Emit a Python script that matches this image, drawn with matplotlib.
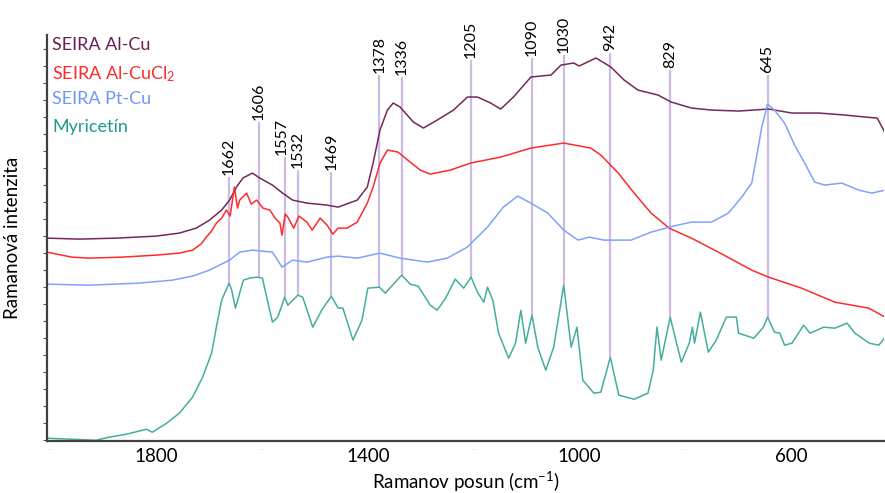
import matplotlib
matplotlib.use("Agg")
from matplotlib import pyplot as plt
import numpy as np

plt.rcParams['font.family'] = ['Lato', 'DejaVu Sans']
plt.rcParams['mathtext.fontset'] = 'custom'
plt.rcParams['mathtext.rm'] = 'Lato'
plt.rcParams['mathtext.it'] = 'Lato'

# SEIRA Al-Cu
alcu_x = [2006, 1945, 1875, 1800, 1756, 1724, 1699, 1676, 1661, 1648, 1636, 1618, 1604,
          1580, 1561, 1542, 1515, 1477, 1456, 1420, 1401, 1390, 1377, 1363, 1352, 1339,
          1314, 1295, 1269, 1238, 1212, 1193, 1168, 1149, 1125, 1092, 1054, 1035, 1011,
          1001, 969, 941, 916, 890, 852, 827, 789, 751, 700, 643, 599, 548, 499, 461, 438, 423]
alcu_y = [202, 201, 202, 204, 207, 212, 220, 230, 240, 253, 262, 267, 262,
          255, 247, 240, 237, 235, 233, 240, 253, 277, 310, 330, 337, 333,
          318, 312, 320, 330, 343, 343, 337, 331, 343, 363, 365, 375, 377,
          374, 382, 373, 360, 350, 345, 338, 332, 330, 329, 331, 327, 327, 325, 323, 322, 307]

# SEIRA Al-CuCl2
alcucl_x = [2006, 1959, 1926, 1864, 1800, 1756, 1731, 1715, 1705, 1695, 1686, 1676, 1667,
            1660, 1652, 1646, 1642, 1629, 1620, 1610, 1598, 1585, 1575, 1566, 1562, 1556,
            1551, 1540, 1530, 1515, 1505, 1490, 1477, 1466, 1456, 1439, 1420, 1401, 1390,
            1377, 1363, 1343, 1320, 1301, 1282, 1244, 1206, 1149, 1092, 1030, 979, 960,
            927, 897, 865, 831, 789, 738, 675, 643, 581, 518, 454, 423]
alcucl_y = [188, 183, 182, 183, 185, 187, 190, 196, 203, 209, 217, 222, 230,
            224, 253, 232, 240, 247, 236, 240, 232, 230, 222, 217, 205, 226,
            223, 212, 224, 218, 210, 222, 215, 206, 212, 212, 218, 237, 253,
            277, 290, 288, 278, 270, 266, 270, 277, 283, 292, 297, 292, 285,
            267, 247, 227, 212, 202, 188, 170, 163, 152, 138, 132, 123]

# SEIRA Pt-Cu
ptcu_x = [2006, 1926, 1832, 1769, 1731, 1699, 1680, 1661, 1642, 1618, 1580, 1562, 1542,
          1515, 1477, 1456, 1420, 1377, 1339, 1288, 1250, 1212, 1174, 1144, 1117, 1092,
          1060, 1030, 1003, 982, 954, 903, 865, 831, 789, 751, 719, 694, 675, 666, 656,
          645, 632, 613, 594, 575, 556, 537, 505, 473, 448, 423]
ptcu_y = [156, 155, 157, 160, 164, 170, 175, 180, 188, 190, 188, 173, 180,
          178, 183, 184, 182, 187, 182, 178, 182, 193, 213, 233, 244, 237,
          227, 210, 200, 203, 200, 200, 208, 213, 218, 218, 227, 243, 257, 283, 313,
          336, 330, 317, 295, 277, 258, 255, 257, 250, 247, 250]

# Myricetin
myr_x = [2006, 1959, 1913, 1889, 1856, 1818, 1807, 1780, 1756, 1731, 1712, 1695, 1686,
         1676, 1662, 1657, 1650, 1642, 1635, 1623, 1610, 1599, 1591, 1580, 1570, 1557,
         1551, 1532, 1523, 1504, 1487, 1469, 1456, 1447, 1428, 1411, 1400, 1378, 1367,
         1336, 1320, 1305, 1282, 1269, 1253, 1235, 1219, 1205, 1193, 1181, 1174, 1164,
         1153, 1134, 1121, 1111, 1102, 1090, 1079, 1064, 1049, 1030, 1016, 1005, 994,
         973, 960, 942, 926, 897, 871, 861, 854, 846, 829, 808, 793, 787, 783, 772,
         757, 742, 723, 704, 700, 671, 653, 645, 632, 622, 613, 599, 577, 565, 539,
         518, 495, 480, 453, 435, 423]
myr_y = [2, 1, 0, 3, 6, 11, 8, 17, 27, 43, 63, 87, 113,
         140, 157, 150, 132, 147, 160, 162, 163, 162, 143, 118, 123, 143,
         135, 145, 143, 113, 130, 144, 132, 132, 100, 120, 152, 153, 147,
         165, 156, 154, 135, 130, 142, 161, 152, 163, 148, 138, 153, 140,
         107, 82, 97, 130, 97, 125, 93, 70, 93, 155, 93, 113, 60,
         47, 48, 83, 45, 41, 47, 70, 113, 80, 123, 78, 97, 113, 97, 128,
         88, 100, 123, 123, 107, 102, 113, 123, 108, 107, 95, 97, 115, 107, 113,
         112, 117, 107, 97, 95, 103]

# marked bands
peaks = [1662, 1606, 1557, 1532, 1469, 1378, 1336, 1205, 1090, 1030, 942, 829, 645]
line_low = [157, 163, 143, 145, 144, 153, 165, 163, 125, 155, 83, 123, 123]
label_low = [263, 318, 283, 270, 268, 365, 363, 380, 382, 385, 387, 370, 365]
label_dx = [0, 0, 5, 0, 0, 0, 0, 0, 0, 0, 0, 0, 0]

series = [
    ("SEIRA Al-Cu", alcu_x, alcu_y, "#74285a", "#6a1e52"),
    ("SEIRA Al-CuCl$_2$", alcucl_x, alcucl_y, "#ff2a2a", "#ff2a2a"),
    ("SEIRA Pt-Cu", ptcu_x, ptcu_y, "#7fa3fa", "#6f97f5"),
    ("Myricetín", myr_x, myr_y, "#45ad9d", "#1f9985"),
]

fig = plt.figure(figsize=(8.85, 4.93), dpi=100)
ax = fig.add_axes([0.053, 0.105, 0.946, 0.824])

# vertical guide lines for the bands
ax.vlines(peaks, line_low, label_low, color="#cdbbe6", lw=1.6, zorder=1)
for p, top, dx in zip(peaks, label_low, label_dx):
    ax.text(p + dx, top + 2, str(p), rotation=90, ha="center", va="bottom",
            fontsize=11.5)

for name, xs, ys, col, tcol in series:
    ax.plot(xs, ys, color=col, lw=1.1, zorder=2)

# legend as coloured text
for i, (name, xs, ys, col, tcol) in enumerate(series):
    ax.text(0.006, 0.995 - i * 0.067, name, transform=ax.transAxes, color=tcol,
            fontsize=13, ha="left", va="top")

ax.set_xlim(2006, 425)
ax.set_ylim(-1, 405)

ax.set_xticks([1800, 1400, 1000, 600])
ax.set_xticklabels(["1800", "1400", "1000", "600"], fontsize=13.5)
ax.set_xticks([2000, 1600, 1200, 800], minor=True)
ax.tick_params(axis="x", which="both", length=0, pad=5)
for m in [2000, 1600, 1200, 800]:
    ax.text(m, -6, "....", ha="center", va="top", fontsize=4, color="#c8c8c8")

ax.set_yticks(np.arange(0, 405, 17))
ax.set_yticklabels([])
ax.tick_params(axis="y", length=3, width=0.8, color="#555555")

for s in ["top", "right"]:
    ax.spines[s].set_visible(False)
for s in ["left", "bottom"]:
    ax.spines[s].set_color("#404040")
    ax.spines[s].set_linewidth(1.6)

ax.set_xlabel("Ramanov posun (cm$^{-1}$)", fontsize=13.5, labelpad=3)
ax.set_ylabel("Ramanová intenzita", fontsize=13.5, labelpad=12)

fig.savefig("out.png", dpi=100)
